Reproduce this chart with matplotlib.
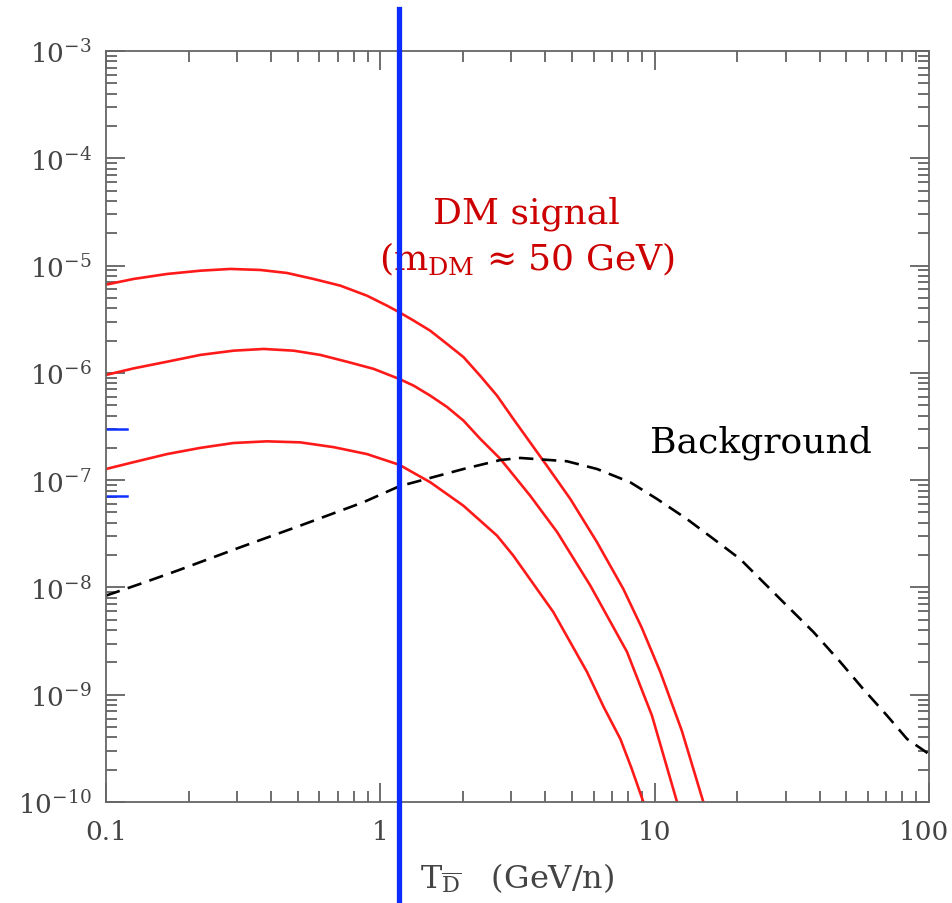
import matplotlib
matplotlib.use("Agg")
import matplotlib.pyplot as plt
import matplotlib.transforms as mtransforms
from matplotlib.ticker import LogLocator, NullFormatter, FixedLocator, FixedFormatter

plt.rcParams["font.family"] = ["DejaVu Serif"]
plt.rcParams["mathtext.fontset"] = "dejavuserif"

# Kinetic energy per nucleon (GeV/n) and antideuteron flux for three DM signal curves
sig_hi_T = [0.1, 0.126, 0.167, 0.221, 0.284, 0.365, 0.457, 0.571, 0.715, 0.894, 1.058, 1.173,
            1.323, 1.521, 1.751, 2.012, 2.316, 2.664, 3.054, 4.054, 4.928, 6.16, 7.69, 8.98,
            10.49, 12.57, 15.05]
sig_hi_F = [6.64e-6, 7.50e-6, 8.35e-6, 8.96e-6, 9.30e-6, 9.10e-6, 8.53e-6, 7.50e-6, 6.50e-6,
            5.24e-6, 4.23e-6, 3.67e-6, 3.07e-6, 2.47e-6, 1.86e-6, 1.40e-6, 9.35e-7, 6.13e-7,
            3.72e-7, 1.355e-7, 6.68e-8, 2.65e-8, 9.68e-9, 4.20e-9, 1.63e-9, 4.60e-10, 1.0e-10]

sig_mid_T = [0.1, 0.126, 0.167, 0.221, 0.292, 0.3755, 0.483, 0.604, 0.756, 0.945, 1.173, 1.323,
             1.521, 1.751, 2.012, 2.316, 2.738, 3.523, 4.409, 5.83, 7.93, 9.78, 12.07]
sig_mid_F = [9.56e-7, 1.10e-6, 1.27e-6, 1.47e-6, 1.61e-6, 1.67e-6, 1.61e-6, 1.47e-6, 1.27e-6,
             1.09e-6, 8.77e-7, 7.60e-7, 6.13e-7, 4.81e-7, 3.58e-7, 2.42e-7, 1.58e-7, 7.13e-8,
             3.29e-8, 1.04e-8, 2.51e-9, 6.38e-10, 1.0e-10]

sig_lo_T = [0.1, 0.126, 0.167, 0.221, 0.292, 0.386, 0.511, 0.676, 0.894, 1.173, 1.521, 2.007,
            2.664, 3.054, 4.27, 5.67, 6.52, 7.50, 8.23, 9.10]
sig_lo_F = [1.27e-7, 1.47e-7, 1.75e-7, 2.00e-7, 2.22e-7, 2.30e-7, 2.25e-7, 2.03e-7, 1.75e-7,
            1.39e-7, 9.56e-8, 5.79e-8, 3.04e-8, 1.98e-8, 5.91e-9, 1.63e-9, 7.69e-10, 3.87e-10,
            2.08e-10, 1.0e-10]

# Secondary (background) antideuteron flux
bkg_T = [0.1, 0.1334, 0.1815, 0.309, 0.511, 0.867, 1.173, 2.01, 2.74, 3.24, 4.79, 6.17, 8.15,
         10.2, 13.1, 16.4, 20.5, 24.9, 31.2, 37.9, 47.5, 57.6, 70.3, 83.2, 100.0]
bkg_F = [8.39e-9, 1.08e-8, 1.43e-8, 2.37e-8, 3.77e-8, 6.22e-8, 8.77e-8, 1.27e-7, 1.54e-7,
         1.61e-7, 1.50e-7, 1.27e-7, 9.55e-8, 6.68e-8, 4.35e-8, 2.83e-8, 1.84e-8, 1.12e-8,
         6.3e-9, 3.85e-9, 2.02e-9, 1.13e-9, 6.4e-10, 3.87e-10, 2.8e-10]

# Energy threshold marker and short flux markers on the left edge
threshold_T = 1.173
edge_marks_F = [3.0e-7, 7.13e-8]

x_ticks = [0.1, 1, 10, 100]
x_tick_labels = ["0.1", "1", "10", "100"]
y_ticks = [1e-10, 1e-9, 1e-8, 1e-7, 1e-6, 1e-5, 1e-4, 1e-3]
y_tick_labels = [r"$10^{-10}$", r"$10^{-9}$", r"$10^{-8}$", r"$10^{-7}$",
                 r"$10^{-6}$", r"$10^{-5}$", r"$10^{-4}$", r"$10^{-3}$"]

fig = plt.figure(figsize=(9.52, 9.04), dpi=100)
ax = fig.add_axes([0.1113, 0.1117, 0.8645, 0.8308])
ax.set_xscale("log")
ax.set_yscale("log")
ax.set_xlim(0.1, 100)
ax.set_ylim(1e-10, 1e-3)

red = "#ff1a1a"
for T, F in [(sig_hi_T, sig_hi_F), (sig_mid_T, sig_mid_F), (sig_lo_T, sig_lo_F)]:
    ax.plot(T, F, color=red, lw=1.9, solid_joinstyle="round")

ax.plot(bkg_T, bkg_F, color="black", lw=1.9, dashes=(5.5, 3.2))

# Axes styling: inward ticks on all four sides
axis_gray = "#666666"
for s in ax.spines.values():
    s.set_color(axis_gray)
    s.set_linewidth(1.3)

ax.xaxis.set_major_locator(FixedLocator(x_ticks))
ax.xaxis.set_major_formatter(FixedFormatter(x_tick_labels[:-1] + [""]))
ax.xaxis.set_minor_locator(LogLocator(base=10, subs=range(2, 10), numticks=20))
ax.xaxis.set_minor_formatter(NullFormatter())
ax.yaxis.set_major_locator(FixedLocator(y_ticks))
ax.yaxis.set_major_formatter(FixedFormatter(y_tick_labels))
ax.yaxis.set_minor_locator(LogLocator(base=10, subs=range(2, 10), numticks=20))
ax.yaxis.set_minor_formatter(NullFormatter())

ax.tick_params(which="both", direction="in", top=True, right=True, color="#555555",
               width=1.2, labelcolor="#444444")
ax.tick_params(which="major", length=14, labelsize=19)
ax.tick_params(which="minor", length=8)
ax.tick_params(axis="x", which="major", pad=12)
ax.tick_params(axis="y", which="major", pad=10)

# Last x label sits at the right edge; nudge it inward so it stays on the canvas
ax.annotate(x_tick_labels[-1], xy=(x_ticks[-1], 0),
            xycoords=mtransforms.blended_transform_factory(ax.transData, ax.transAxes),
            xytext=(-4, -12), textcoords="offset points", ha="center", va="top",
            fontsize=19, color="#444444", annotation_clip=False)

ax.set_xlabel(r"$\mathrm{T}_{\overline{\mathrm{D}}}$   (GeV/n)", fontsize=23,
              color="#444444", labelpad=12)

# Threshold line spanning the full figure height
blend = mtransforms.blended_transform_factory(ax.transData, ax.transAxes)
ax.plot([threshold_T, threshold_T], [-0.135, 1.056], transform=blend, color="#0a2cff",
        lw=3.8, clip_on=False, zorder=5)

for f in edge_marks_F:
    ax.axhline(f, xmin=0, xmax=0.026, color="#1030ff", lw=1.8)

# Annotations
dm_red = "#cc0000"
ax.text(0.5115, 0.772, "DM signal", transform=ax.transAxes, ha="center", va="baseline",
        fontsize=26, color=dm_red)
ax.text(0.5115, 0.7097, r"(m$_{\mathrm{DM}}$ ≈ 50 GeV)", transform=ax.transAxes,
        ha="center", va="baseline", fontsize=26, color=dm_red)
ax.text(0.796, 0.467, "Background", transform=ax.transAxes, ha="center", va="baseline",
        fontsize=26, color="black")

fig.savefig("out.png", dpi=100)
